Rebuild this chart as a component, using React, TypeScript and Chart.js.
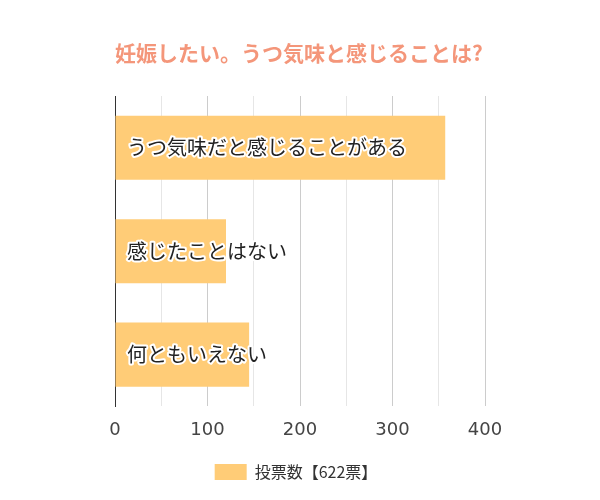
import { useEffect, useRef } from "react";
import Chart from "chart.js/auto";

const categories = ["うつ気味だと感じることがある", "感じたことはない", "何ともいえない"];
const votes = [357, 120, 145];
const seriesLabel = "投票数【622票】";
const titleText = "妊娠したい。うつ気味と感じることは?";

const jpFont = "'Noto Sans CJK JP', 'Noto Sans', sans-serif";

// title drawn over the chart area's left edge, labels drawn inside the bars
const overlayPlugin = {
  id: "overlay",
  afterDatasetsDraw(chart: any) {
    const { ctx, chartArea } = chart;
    ctx.save();
    ctx.font = `bold 21px ${jpFont}`;
    ctx.fillStyle = "#F4967A";
    ctx.textAlign = "left";
    ctx.textBaseline = "middle";
    ctx.fillText(titleText, chartArea.left, 53);

    const meta = chart.getDatasetMeta(0);
    ctx.font = `20px ${jpFont}`;
    ctx.lineJoin = "round";
    meta.data.forEach((bar: any, i: number) => {
      const x = chartArea.left + 12;
      const y = bar.y;
      ctx.strokeStyle = "#ffffff";
      ctx.lineWidth = 4;
      ctx.strokeText(categories[i], x, y);
      ctx.fillStyle = "#222222";
      ctx.fillText(categories[i], x, y);
    });
    ctx.restore();
  },
};

export default function App() {
  const canvasRef = useRef<HTMLCanvasElement>(null);

  useEffect(() => {
    const chart = new Chart(canvasRef.current!, {
      type: "bar",
      data: {
        labels: categories,
        datasets: [
          {
            label: seriesLabel,
            data: votes,
            backgroundColor: "#FFCC77",
            borderWidth: 0,
            categoryPercentage: 1,
            barPercentage: 0.62,
          },
        ],
      },
      options: {
        indexAxis: "y",
        animation: false,
        responsive: true,
        maintainAspectRatio: false,
        layout: { padding: { left: 107, right: 115, top: 96, bottom: 10 } },
        scales: {
          x: {
            min: 0,
            max: 400,
            ticks: {
              stepSize: 50,
              padding: 13,
              color: "#444444",
              font: { family: "'DejaVu Sans', sans-serif", size: 18 },
              callback: (v: any) => (Number(v) % 100 === 0 ? String(v) : ""),
              autoSkip: false,
              maxRotation: 0,
            },
            grid: {
              drawTicks: false,
              color: (c: any) => (c.tick && c.tick.value % 100 === 0 ? "#cccccc" : "#e6e6e6"),
            },
            border: { display: false },
          },
          y: {
            ticks: { display: false },
            grid: { display: false },
            border: { display: true, color: "#333333", width: 1 },
          },
        },
        plugins: {
          title: { display: false },
          tooltip: { enabled: false },
          legend: {
            position: "bottom",
            labels: {
              boxWidth: 32,
              boxHeight: 16,
              color: "#333333",
              font: { family: jpFont, size: 16 },
              padding: 10,
            },
          },
        },
      },
      plugins: [overlayPlugin],
    });
    return () => chart.destroy();
  }, []);

  return (
    <div style={{ position: "fixed", left: 0, top: 0, width: 600, height: 500, background: "#fff" }}>
      <canvas ref={canvasRef}></canvas>
    </div>
  );
}
